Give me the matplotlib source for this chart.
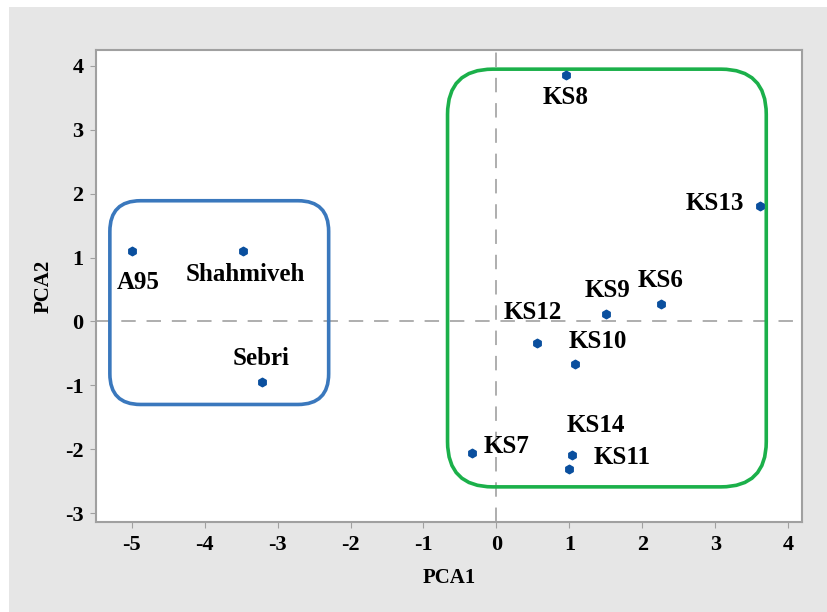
import matplotlib
matplotlib.use("Agg")
import matplotlib.pyplot as plt
from matplotlib.patches import FancyBboxPatch, Rectangle

plt.rcParams["axes.unicode_minus"] = False

# PCA scores
names = ["A95", "Shahmiveh", "Sebri", "KS8", "KS13", "KS6", "KS9",
         "KS12", "KS10", "KS7", "KS14", "KS11"]
pca1 = [-5.00, -3.48, -3.22, 0.95, 3.61, 2.25, 1.50, 0.56, 1.08, -0.34, 1.04, 1.00]
pca2 = [1.11, 1.11, -0.95, 3.86, 1.80, 0.27, 0.11, -0.34, -0.66, -2.06, -2.09, -2.31]

xticks = [-5, -4, -3, -2, -1, 0, 1, 2, 3, 4]
yticks = [-3, -2, -1, 0, 1, 2, 3, 4]

# label offsets in points (dx, dy) and alignment
label_pos = {
    "A95": (5, -23, "center"),
    "Shahmiveh": (2, -17, "center"),
    "Sebri": (0, 17, "center"),
    "KS8": (0, -16, "center"),
    "KS13": (-11, 2, "right"),
    "KS6": (0, 17, "center"),
    "KS9": (1, 17, "center"),
    "KS12": (-3, 22, "center"),
    "KS10": (16, 16, "center"),
    "KS7": (25, 5, "center"),
    "KS14": (17, 21, "center"),
    "KS11": (38, 8, "center"),
}

GRAY = "#e6e6e6"
AXC = "#a0a0a0"
FONT = "Liberation Serif"

fig = plt.figure(figsize=(8.27, 6.12), dpi=100)
fig.patch.set_facecolor("white")
fig.patches.append(Rectangle((9 / 827, 0), 1, 1 - 7 / 612, transform=fig.transFigure,
                             facecolor=GRAY, edgecolor="none", zorder=-10))

ax = fig.add_axes([96 / 827, 90 / 612, 706 / 827, 472 / 612])
ax.set_xlim(-5.49, 4.19)
ax.set_ylim(-3.14, 4.25)

ax.axvline(0, color="#a8a8a8", lw=1.3, dashes=(8, 6), zorder=1)
ax.axhline(0, color="#a8a8a8", lw=1.3, dashes=(8, 6), zorder=1)

# group outlines (rounded corners corrected for the axis aspect)
aspect = (7.39 / 472) / (9.68 / 706)
groups = [((-5.30, -1.30), 3.00, 3.19, 0.42, "#3a78bd"),
          ((-0.67, -2.59), 4.37, 6.54, 0.62, "#1bb04a")]
for (x0, y0), w, h, r, c in groups:
    box = FancyBboxPatch((x0, y0), w, h, boxstyle=f"round,pad=0,rounding_size={r}",
                         mutation_aspect=aspect, fill=False, edgecolor=c, lw=2.6, zorder=2)
    ax.add_patch(box)

ax.scatter(pca1, pca2, s=38, marker="h", color="#0a4f9e", zorder=3)

for n, x, y in zip(names, pca1, pca2):
    dx, dy, ha = label_pos[n]
    ax.annotate(n, (x, y), xytext=(dx, dy), textcoords="offset points",
                ha=ha, va="center", fontsize=18, fontweight="bold",
                family=FONT, zorder=4)

ax.set_xticks(xticks)
ax.set_yticks(yticks)
for lab in ax.get_xticklabels() + ax.get_yticklabels():
    lab.set_family(FONT)
    lab.set_fontweight("bold")
    lab.set_fontsize(16)
ax.tick_params(length=4, color=AXC, pad=5)
for sp in ax.spines.values():
    sp.set_color(AXC)
    sp.set_linewidth(1.5)

ax.set_xlabel("PCA1", family=FONT, fontweight="bold", fontsize=15, labelpad=10)
ax.set_ylabel("PCA2", family=FONT, fontweight="bold", fontsize=15, labelpad=8)

fig.savefig("out.png", dpi=100, facecolor=fig.get_facecolor())
